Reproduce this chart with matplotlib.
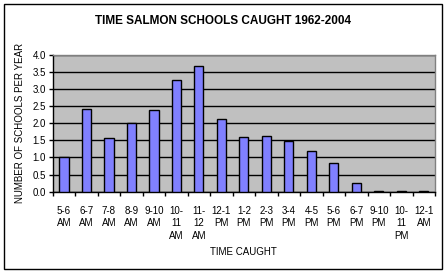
import matplotlib
matplotlib.use("Agg")
import matplotlib.pyplot as plt
from matplotlib.patches import Rectangle
import numpy as np

categories = ["5-6\nAM", "6-7\nAM", "7-8\nAM", "8-9\nAM", "9-10\nAM", "10-\n11\nAM",
              "11-\n12\nAM", "12-1\nPM", "1-2\nPM", "2-3\nPM", "3-4\nPM", "4-5\nPM",
              "5-6\nPM", "6-7\nPM", "9-10\nPM", "10-\n11\nPM", "12-1\nAM"]
values = [1.0, 2.41, 1.56, 2.0, 2.38, 3.25, 3.66, 2.11, 1.59, 1.62, 1.48, 1.18,
          0.83, 0.245, 0.025, 0.025, 0.025]
yticks = [0.0, 0.5, 1.0, 1.5, 2.0, 2.5, 3.0, 3.5, 4.0]

plt.rcParams['font.family'] = ['Liberation Sans', 'DejaVu Sans']

W, H = 446, 275
fig = plt.figure(figsize=(W / 100, H / 100), dpi=100)
fig.patch.set_facecolor("white")

# outer frame
fig.patches.append(Rectangle((4 / W, (H - 269) / H), 438 / W, 265 / H,
                             transform=fig.transFigure, fill=False,
                             edgecolor="black", linewidth=1.0))

ax = fig.add_axes([52.7 / W, (H - 191.7) / H, (435 - 52.7) / W, (191.7 - 54.7) / H])
ax.set_facecolor("#C0C0C0")

x = np.arange(len(categories))
ax.bar(x, values, width=0.41, color="#8080FF", edgecolor="black", linewidth=1.0, zorder=3)

ax.set_xlim(-0.5, len(categories) - 0.5)
ax.set_ylim(0, 4.0)
ax.set_yticks(yticks)
ax.set_yticklabels([f"{v:.1f}" for v in yticks], fontsize=7)
ax.yaxis.grid(True, color="black", linewidth=1.0, zorder=1)
ax.set_axisbelow(True)

# category labels at centers, tick marks at boundaries
ax.set_xticks(x)
ax.set_xticklabels(categories, fontsize=7, linespacing=1.35)
ax.tick_params(axis="x", which="major", length=0, pad=10)
ax.set_xticks(np.arange(-0.5, len(categories) + 0.5, 1.0), minor=True)
ax.tick_params(axis="x", which="minor", length=3, width=1, color="black", direction="out")
ax.tick_params(axis="y", length=3, width=1, color="black", direction="out", pad=2)

for s in ["top", "right"]:
    ax.spines[s].set_color("#808080")
    ax.spines[s].set_linewidth(1.0)
for s in ["left", "bottom"]:
    ax.spines[s].set_color("black")
    ax.spines[s].set_linewidth(1.0)

ax.set_ylabel("NUMBER OF SCHOOLS PER YEAR", fontsize=7, labelpad=5)
ax.set_xlabel("TIME CAUGHT", fontsize=7, labelpad=4)

fig.text(0.5, 1 - 21 / H, "TIME SALMON SCHOOLS CAUGHT 1962-2004", ha="center", va="center",
         fontsize=8.5, fontweight="bold")

fig.savefig("out.png", dpi=100)
